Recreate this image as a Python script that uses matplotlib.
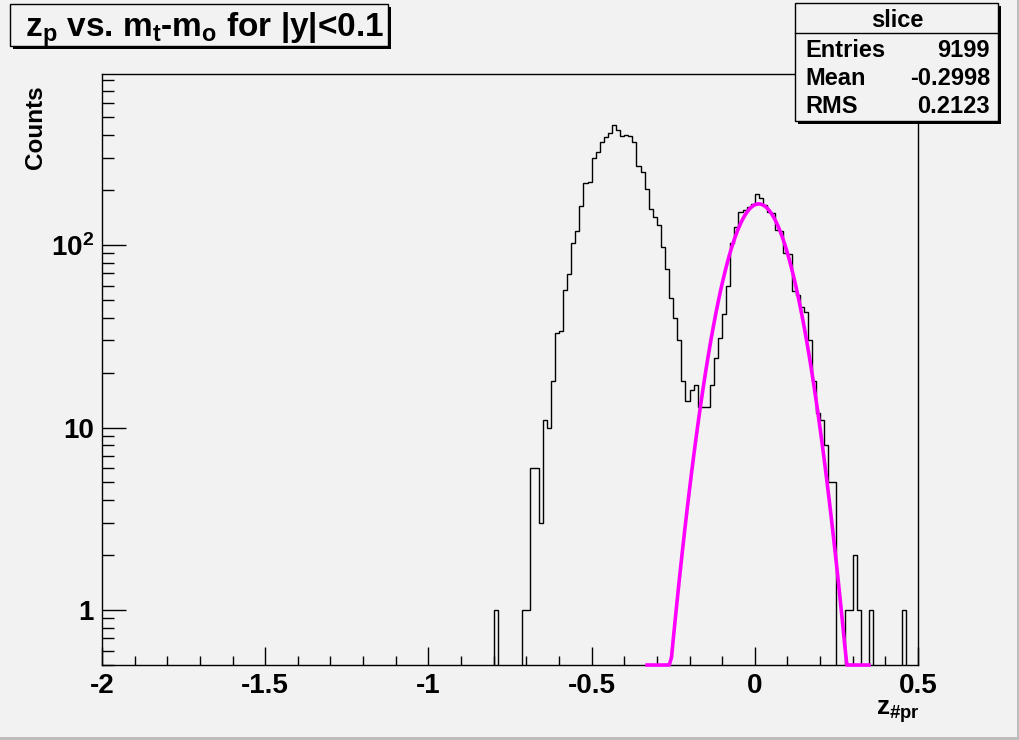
import numpy as np
import matplotlib.pyplot as plt
from matplotlib.patches import Rectangle
from matplotlib.lines import Line2D
from matplotlib.ticker import FixedLocator, FixedFormatter, MultipleLocator, NullFormatter

plt.rcParams['font.family'] = 'Liberation Sans'
plt.rcParams['font.weight'] = 'bold'
plt.rcParams['axes.unicode_minus'] = False
plt.rcParams['mathtext.fontset'] = 'custom'
plt.rcParams['mathtext.rm'] = 'Liberation Sans:bold'
plt.rcParams['mathtext.it'] = 'Liberation Sans:bold'
plt.rcParams['mathtext.bf'] = 'Liberation Sans:bold'

# histogram: 200 bins on [-2, 0.5], contents
n_bins = 200
x_low, x_high = -2.0, 0.5
first_bin = 96
counts_read = [1, 0, 0, 0, 0, 0, 0, 1, 1, 6,
               6, 3, 11, 10, 18, 33, 34, 57, 69, 103,
               119, 163, 220, 222, 298, 325, 368, 389, 412, 456,
               427, 396, 401, 394, 365, 271, 251, 204, 157, 143,
               128, 97, 74, 51, 40, 30, 18, 14, 16, 17,
               13, 13, 13, 17, 24, 31, 42, 60, 103, 125,
               151, 155, 162, 168, 190, 180, 166, 152, 150, 121,
               120, 90, 89, 56, 53, 46, 43, 30, 18, 12,
               11, 8, 5, 5, 0, 0, 1, 1, 2, 1,
               0, 0, 1, 0, 0, 0, 0, 0, 0, 0,
               1]
counts = np.zeros(n_bins)
counts[first_bin:first_bin + len(counts_read)] = counts_read

# gaussian fit drawn over the right peak
fit_amp, fit_mean, fit_sigma = 168.0, 0.012, 0.079
fit_lo, fit_hi = -0.33, 0.35

y_low, y_high = 0.5, 865
x_ticks = [-2, -1.5, -1, -0.5, 0, 0.5]
x_tick_labels = ['-2', '-1.5', '-1', '-0.5', '0', '0.5']
y_ticks = [1, 10, 100]
y_tick_labels = ['1', '10', r'$10^{2}$']

title = r'z$_{\mathrm{p}}$ vs. m$_{\mathrm{t}}$-m$_{\mathrm{o}}$ for |y|<0.1'
xlabel = r'z$_{\#\mathrm{pr}}$'
ylabel = 'Counts'
stats_title = 'slice'
stats_names = ['Entries', 'Mean', 'RMS']
stats_values = ['9199', '-0.2998', '0.2123']

W, H = 1020, 740
bg = '#f2f2f2'
fig = plt.figure(figsize=(W / 100, H / 100), dpi=100, facecolor=bg)
ax = fig.add_axes([102 / W, 1 - 665 / H, 816 / W, 591 / H])
ax.set_facecolor(bg)

edges = np.linspace(x_low, x_high, n_bins + 1)
ax.stairs(np.where(counts > 0, counts, 1e-3), edges, color='black', lw=1.0, baseline=1e-3)

xf = np.linspace(fit_lo, fit_hi, 101)
yf = fit_amp * np.exp(-0.5 * ((xf - fit_mean) / fit_sigma) ** 2)
ax.plot(xf, np.clip(yf, y_low, None), color='#ff00ff', lw=2.6, clip_on=False, zorder=3)

ax.set_yscale('log')
ax.set_xlim(x_low, x_high)
ax.set_ylim(y_low, y_high)

ax.xaxis.set_major_locator(FixedLocator(x_ticks))
ax.xaxis.set_major_formatter(FixedFormatter(x_tick_labels))
ax.xaxis.set_minor_locator(MultipleLocator(0.1))
ax.yaxis.set_major_locator(FixedLocator(y_ticks))
ax.yaxis.set_major_formatter(FixedFormatter(y_tick_labels))
ax.yaxis.set_minor_locator(FixedLocator([m * 10 ** e for e in range(-1, 3) for m in range(2, 10)]))
ax.yaxis.set_minor_formatter(NullFormatter())

ax.tick_params(which='both', direction='in', top=False, right=False, width=1, labelsize=20)
ax.tick_params(axis='x', which='major', length=12.7, pad=6)
ax.tick_params(axis='x', which='minor', length=6.4)
ax.tick_params(axis='y', which='major', length=17.6, pad=6)
ax.tick_params(axis='y', which='minor', length=8.8)
for lab in ax.get_xticklabels() + ax.get_yticklabels():
    lab.set_fontweight('bold')
for sp in ax.spines.values():
    sp.set_linewidth(1)

fig.text(36 / W, 1 - 85 / H, ylabel, rotation=90, ha='center', va='top', size=17.5, weight='bold')
fig.text(920 / W, 1 - 715 / H, xlabel, ha='right', va='baseline', size=19, weight='bold')

def pave(x0, y0, x1, y1):
    # box with ROOT style shadow, pixel coords from top-left
    fig.patches.append(Rectangle(((x0 + 3) / W, 1 - (y1 + 3) / H), (x1 - x0) / W, (y1 - y0) / H,
                                 transform=fig.transFigure, facecolor='black', edgecolor='none', zorder=5))
    fig.patches.append(Rectangle((x0 / W, 1 - y1 / H), (x1 - x0) / W, (y1 - y0) / H,
                                 transform=fig.transFigure, facecolor=bg, edgecolor='black', lw=1, zorder=6))

pave(10, 4, 388, 46)
fig.text(25 / W, 1 - 37 / H, title, ha='left', va='baseline', size=24, weight='bold', zorder=7)

pave(795, 3, 998, 121)
fig.lines.append(Line2D([795 / W, 998 / W], [1 - 33 / H, 1 - 33 / H], transform=fig.transFigure,
                        color='black', lw=1, zorder=7))
fig.text(897 / W, 1 - 27 / H, stats_title, ha='center', va='baseline', size=17, weight='bold', zorder=7)
for i, (nm, val) in enumerate(zip(stats_names, stats_values)):
    yb = 1 - (57 + 28 * i) / H
    fig.text(805 / W, yb, nm, ha='left', va='baseline', size=17, weight='bold', zorder=7)
    fig.text(990 / W, yb, val, ha='right', va='baseline', size=17, weight='bold', zorder=7)

# canvas bevel on right and bottom
fig.patches.append(Rectangle((1 - 3 / W, 0), 3 / W, 1, transform=fig.transFigure,
                             facecolor='#bdbdbd', edgecolor='none', zorder=8))
fig.patches.append(Rectangle((0, 0), 1, 3 / H, transform=fig.transFigure,
                             facecolor='#bdbdbd', edgecolor='none', zorder=8))

fig.savefig('out.png', dpi=100, facecolor=bg)
